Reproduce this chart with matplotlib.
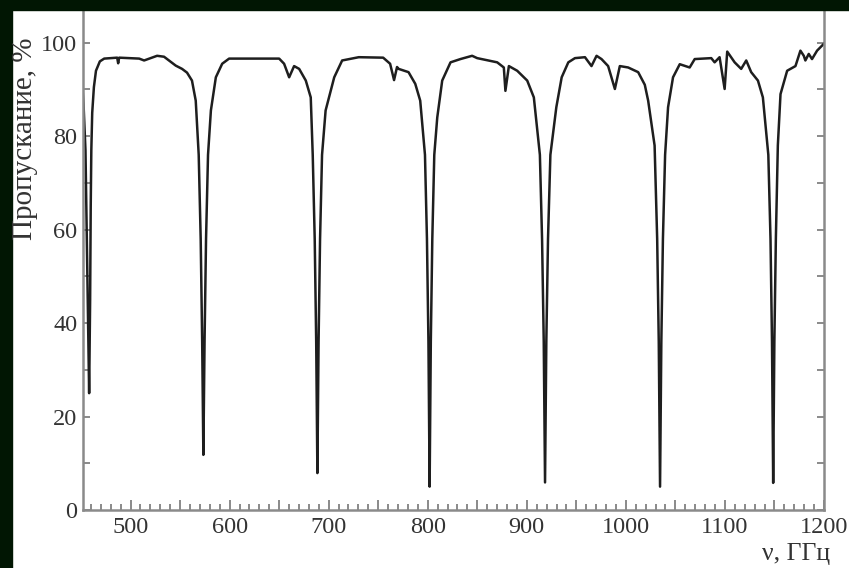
import matplotlib
matplotlib.use("Agg")
import matplotlib.pyplot as plt
from matplotlib.patches import Rectangle
from matplotlib.ticker import MultipleLocator, FuncFormatter

# transmission spectrum (GHz, %)
freq_ghz = [
    451.3, 452.5, 454.5, 456.6, 458.2, 459.2, 459.8, 460.4, 461.3, 463.0, 465.1,
    469.0, 473.4, 486.5, 487.5, 488.5, 508.7, 513.7, 526.8, 533.8, 545.6, 552.0,
    557.0, 562.0, 565.8,
    568.8, 570.8, 572.3, 573.5, 574.7, 576.2, 578.2,
    581.1, 586.1, 592.5, 599.5, 650.0, 655.0, 660.1, 665.1, 670.2, 676.9, 681.9,
    683.9, 685.9, 687.4, 688.6, 689.8, 691.3, 693.3,
    696.9, 705.6, 713.6, 730.4, 755.0, 762.0, 766.0, 769.0, 770.6, 780.6, 787.4,
    792.4,
    797.2, 799.2, 800.7, 801.9, 803.1, 804.6, 806.6,
    809.6, 814.6, 823.0, 833.0, 844.8, 849.9, 870.1, 876.8, 878.4, 881.9, 890.3,
    900.4, 907.1,
    913.2, 915.4, 917.1, 918.4, 919.7, 921.4, 923.8,
    929.8, 935.2, 941.9, 948.6, 958.7, 965.3, 970.4, 975.4, 982.1, 988.9, 993.9,
    1002.3, 1012.4, 1019.1, 1022.5,
    1029.0, 1031.6, 1033.2, 1034.5, 1035.8, 1037.4, 1039.6,
    1042.6, 1047.6, 1054.4, 1064.4, 1069.5, 1086.2, 1089.6, 1094.6, 1099.7,
    1102.3, 1109.8, 1116.4, 1121.5, 1126.5, 1133.3, 1138.3,
    1143.8, 1146.0, 1147.5, 1148.7, 1149.9, 1151.4, 1153.4,
    1156.1, 1162.8, 1171.2, 1176.2, 1179.6, 1181.2, 1184.6, 1187.9, 1193.0,
    1200.0,
]
transmission = [
    91.0, 87.0, 77.0, 48.0, 25.0, 45.0, 65.0, 77.0, 85.0, 90.5, 94.0,
    96.0, 96.6, 96.8, 95.6, 96.8, 96.6, 96.2, 97.2, 97.0, 95.1, 94.4,
    93.6, 91.9, 87.6,
    76.0, 58.0, 36.0, 11.8, 36.0, 58.0, 76.0,
    85.5, 92.6, 95.5, 96.6, 96.6, 95.5, 92.6, 95.0, 94.4, 91.9, 88.3,
    76.0, 58.0, 36.0, 7.9, 36.0, 58.0, 76.0,
    85.5, 92.6, 96.2, 96.9, 96.8, 95.5, 92.0, 94.8, 94.4, 93.7, 91.2,
    87.6,
    76.0, 58.0, 36.0, 5.0, 36.0, 58.0, 76.0,
    84.0, 91.9, 95.8, 96.5, 97.2, 96.7, 95.8, 94.7, 89.7, 95.0, 94.0,
    91.9, 88.3,
    76.0, 58.0, 36.0, 5.9, 36.0, 58.0, 76.0,
    86.2, 92.6, 95.8, 96.7, 96.9, 95.0, 97.2, 96.5, 95.0, 90.1, 95.0,
    94.7, 93.7, 91.0, 87.6,
    78.0, 58.0, 36.0, 5.0, 36.0, 58.0, 76.0,
    86.2, 92.6, 95.4, 94.7, 96.5, 96.7, 95.8, 96.9, 90.1,
    98.1, 95.8, 94.4, 96.2, 93.7, 91.9, 88.3,
    76.0, 58.0, 36.0, 5.8, 36.0, 58.0, 78.0,
    89.0, 94.0, 95.0, 98.3, 97.2, 96.2, 97.6, 96.5, 98.3,
    99.8,
]

y_ticks = [0, 20, 40, 60, 80, 100]
x_label = "ν, ГГц"
y_label = "Пропускание, %"

W, H = 849, 568
fig = plt.figure(figsize=(W / 100, H / 100), dpi=100, facecolor="white")

# dark scan border on top and left
border = "#011603"
fig.patches.append(Rectangle((0, 1 - 10 / H), 1, 10 / H, transform=fig.transFigure,
                             color=border, zorder=0))
fig.patches.append(Rectangle((0, 0), 12 / W, 1, transform=fig.transFigure,
                             color=border, zorder=0))

ax = fig.add_axes([83 / W, 1 - 510 / H, (824 - 83) / W, (510 - 10) / H])
ax.plot(freq_ghz, transmission, color="#1e1e1e", lw=1.8, solid_joinstyle="round")

ax.set_xlim(452, 1200)
ax.set_ylim(0, 107)

serif = "Liberation Serif"
ax.xaxis.set_major_locator(MultipleLocator(50))
ax.xaxis.set_minor_locator(MultipleLocator(10))
ax.xaxis.set_major_formatter(
    FuncFormatter(lambda v, p: f"{int(v)}" if int(v) % 100 == 0 else ""))
ax.set_yticks(y_ticks)
ax.yaxis.set_minor_locator(MultipleLocator(10))

ax.tick_params(axis="both", which="both", direction="in", colors="#777777",
               labelcolor="#333333", labelsize=17.5, width=1.2)
ax.tick_params(axis="x", which="major", length=7, pad=5)
ax.tick_params(axis="x", which="minor", length=4)
ax.tick_params(axis="y", which="both", length=5, right=True, pad=4)
for lab in ax.get_xticklabels() + ax.get_yticklabels():
    lab.set_fontfamily(serif)

for side in ("left", "right", "bottom"):
    ax.spines[side].set_color("#8a8a8a")
    ax.spines[side].set_linewidth(1.8)
ax.spines["top"].set_visible(False)

fig.text(25 / W, 1 - 139 / H, y_label, rotation=90, ha="center", va="center",
         fontsize=21, family=serif, color="#333333")
fig.text(796 / W, 1 - 554 / H, x_label, ha="center", va="center",
         fontsize=18.5, family=serif, color="#333333")

fig.savefig("out.png", dpi=100, facecolor=fig.get_facecolor())
